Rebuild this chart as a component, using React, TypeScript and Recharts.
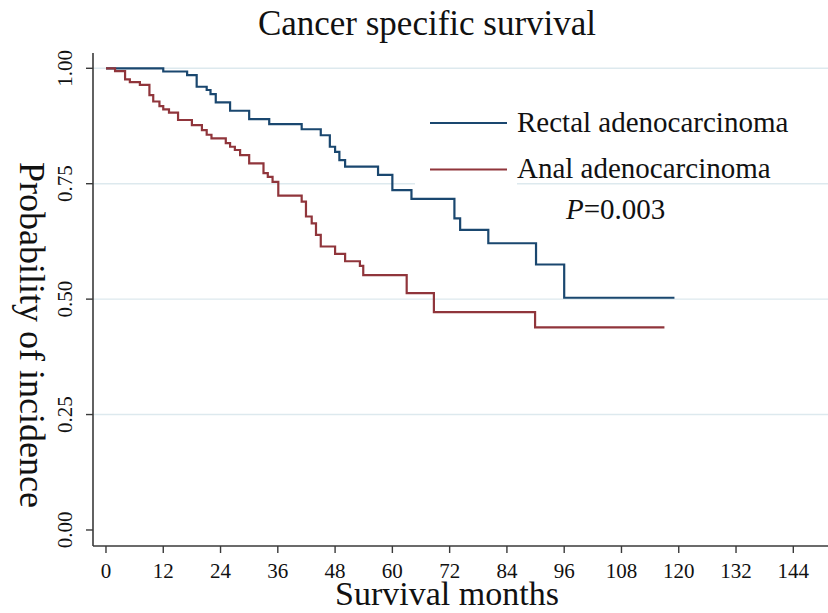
import { LineChart, Line, XAxis, YAxis, ReferenceLine } from 'recharts';

// Kaplan-Meier steps (months, survival)
const rectalMonths = [0, 12.0, 17.0, 19.0, 21.1, 21.9, 23.0, 26.0, 30.0, 34.2, 41.0, 45.0, 46.9, 48.0, 48.9, 50.1, 57.0, 60.0, 64.0, 73.0, 74.2, 80.1, 90.1, 96.0, 119.1];
const rectalSurv = [1.0, 0.993, 0.985, 0.96, 0.953, 0.944, 0.926, 0.908, 0.89, 0.879, 0.868, 0.855, 0.83, 0.819, 0.801, 0.787, 0.769, 0.736, 0.717, 0.675, 0.65, 0.621, 0.575, 0.503, 0.503];

const analMonths = [0, 1.9, 4.0, 5.0, 7.1, 9.1, 9.9, 11.2, 12.0, 13.2, 15.1, 18.0, 20.1, 21.1, 22.1, 25.1, 26.0, 27.0, 28.1, 30.0, 33.0, 33.9, 34.9, 36.1, 41.0, 41.9, 43.1, 44.0, 45.0, 48.0, 50.1, 53.2, 53.9, 63.0, 68.7, 89.9, 117.0];
const analSurv = [1.0, 0.994, 0.976, 0.97, 0.964, 0.942, 0.928, 0.918, 0.911, 0.904, 0.888, 0.877, 0.866, 0.856, 0.848, 0.838, 0.83, 0.823, 0.812, 0.794, 0.773, 0.765, 0.754, 0.724, 0.711, 0.679, 0.664, 0.639, 0.614, 0.598, 0.582, 0.572, 0.552, 0.513, 0.472, 0.439, 0.439];

const xTicks = [0, 12, 24, 36, 48, 60, 72, 84, 96, 108, 120, 132, 144];
const yTicks = [0, 0.25, 0.5, 0.75, 1];
const gridValues = [0.25, 0.5, 0.75, 1];

const BLUE = '#1a476f';
const RED = '#90353b';
const AXIS = '#3a3a3a';
const GRID = '#dde9ee';
const FONT = '"Liberation Serif", "Times New Roman", serif';

const toPoints = (months: number[], surv: number[]) =>
  months.map((m, i) => ({ month: m, surv: surv[i] }));

const rectalData = toPoints(rectalMonths, rectalSurv);
const analData = toPoints(analMonths, analSurv);

const XTick = ({ x, y, payload }: any) => (
  <text x={x} y={y + 23} textAnchor="middle" fontSize={21} fontFamily={FONT} fill="#111">
    {payload.value}
  </text>
);

const YTick = ({ x, y, payload }: any) => {
  const bx = x - 12;
  return (
    <text
      x={bx}
      y={y}
      transform={`rotate(-90, ${bx}, ${y})`}
      textAnchor="middle"
      fontSize={21}
      fontFamily={FONT}
      fill="#111"
    >
      {Number(payload.value).toFixed(2)}
    </text>
  );
};

export default function App() {
  return (
    <div style={{ position: 'absolute', left: 0, top: 0, width: 828, height: 613, background: '#fff' }}>
      <LineChart width={828} height={613} margin={{ top: 53, right: 0, bottom: 0, left: 0 }}>
        <XAxis
          type="number"
          dataKey="month"
          domain={[-2.72, 151.27]}
          allowDataOverflow
          ticks={xTicks}
          interval={0}
          height={67}
          tickSize={7}
          tick={<XTick />}
          axisLine={{ stroke: AXIS, strokeWidth: 1.6 }}
          tickLine={{ stroke: AXIS, strokeWidth: 1.4 }}
        />
        <YAxis
          type="number"
          dataKey="surv"
          domain={[-0.0347, 1.0331]}
          allowDataOverflow
          ticks={yTicks}
          interval={0}
          width={93}
          tickSize={7}
          tick={<YTick />}
          axisLine={{ stroke: AXIS, strokeWidth: 1.6 }}
          tickLine={{ stroke: AXIS, strokeWidth: 1.4 }}
        />
        {gridValues.map((v) => (
          <ReferenceLine key={v} y={v} stroke={GRID} strokeWidth={1.4} ifOverflow="extendDomain" />
        ))}
        <Line
          data={rectalData}
          dataKey="surv"
          type="stepAfter"
          stroke={BLUE}
          strokeWidth={2.2}
          dot={false}
          activeDot={false}
          isAnimationActive={false}
        />
        <Line
          data={analData}
          dataKey="surv"
          type="stepAfter"
          stroke={RED}
          strokeWidth={2.2}
          dot={false}
          activeDot={false}
          isAnimationActive={false}
        />
      </LineChart>
      <svg
        width={828}
        height={613}
        style={{ position: 'absolute', left: 0, top: 0, pointerEvents: 'none' }}
        fontFamily={FONT}
        fill="#111"
      >
        <text x={427} y={35} textAnchor="middle" fontSize={35}>Cancer specific survival</text>
        <text x={447} y={605} textAnchor="middle" fontSize={34}>Survival months</text>
        <text x={20} y={335} transform="rotate(90, 20, 335)" textAnchor="middle" fontSize={36}>
          Probability of incidence
        </text>
        {/* legend key area hides part of the 0.75 grid line */}
        <rect x={415} y={100} width={102} height={92} fill="#fff" />
        <line x1={430} x2={507} y1={123} y2={123} stroke={BLUE} strokeWidth={2.2} />
        <line x1={430} x2={507} y1={169.5} y2={169.5} stroke={RED} strokeWidth={2.2} />
        <text x={517} y={132} fontSize={29}>Rectal adenocarcinoma</text>
        <text x={517} y={178} fontSize={29}>Anal adenocarcinoma</text>
        <text x={566} y={219} fontSize={29}>
          <tspan fontStyle="italic">P</tspan>=0.003
        </text>
      </svg>
    </div>
  );
}
